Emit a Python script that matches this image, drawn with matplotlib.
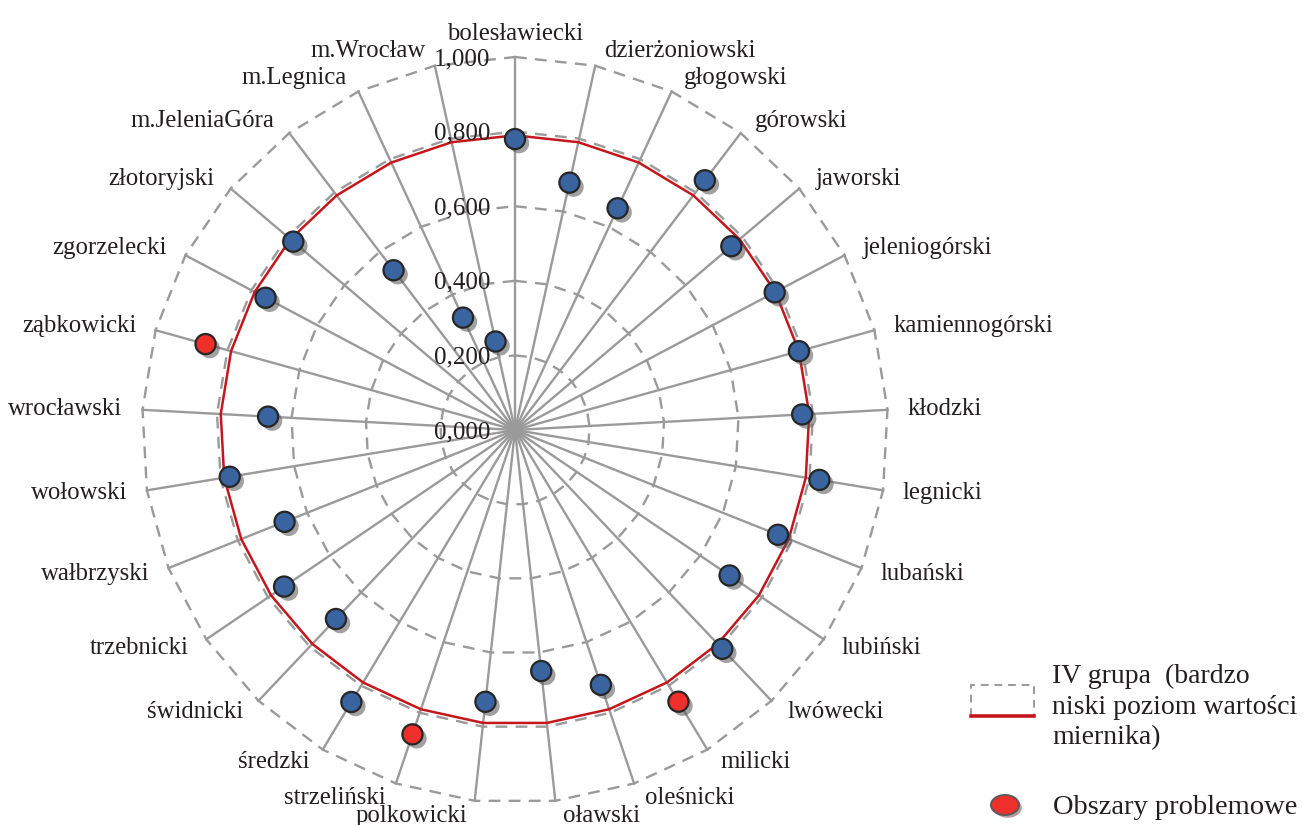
import numpy as np
import matplotlib
matplotlib.use("Agg")
import matplotlib.pyplot as plt
import matplotlib.patheffects as pe
from matplotlib.transforms import offset_copy
from matplotlib.patches import Ellipse
from matplotlib.lines import Line2D

plt.rcParams["font.family"] = ["Liberation Serif", "DejaVu Serif"]

districts = [
    "bolesławiecki", "dzierżoniowski", "głogowski", "górowski", "jaworski",
    "jeleniogórski", "kamiennogórski", "kłodzki", "legnicki", "lubański",
    "lubiński", "lwówecki", "milicki", "oleśnicki", "oławski", "polkowicki",
    "strzeliński", "średzki", "świdnicki", "trzebnicki", "wałbrzyski",
    "wołowski", "wrocławski", "ząbkowicki", "zgorzelecki", "złotoryjski",
    "m.JeleniaGóra", "m.Legnica", "m.Wrocław",
]
values = [
    0.780, 0.679, 0.655, 0.841, 0.761,
    0.788, 0.790, 0.771, 0.827, 0.759,
    0.695, 0.808, 0.850, 0.721, 0.650, 0.733,
    0.861, 0.851, 0.698, 0.748, 0.665,
    0.775, 0.663, 0.861, 0.757, 0.780,
    0.538, 0.332, 0.243,
]
threshold = [0.79] * len(districts)
problem_areas = ["milicki", "strzeliński", "ząbkowicki"]
rings = [0.2, 0.4, 0.6, 0.8, 1.0]
ring_labels = ["0,000", "0,200", "0,400", "0,600", "0,800", "1,000"]

GRAY = "#9a9a9a"
TXT = "#231f20"
BLUE = "#3a64a0"
RED = "#ee2f2a"
LINE_RED = "#c4161c"
W, H = 1303, 825

fig = plt.figure(figsize=(W / 100, H / 100), dpi=100)
ax = fig.add_axes([142 / W, 22 / H, 746 / W, 746 / H], polar=True)
ax.set_theta_zero_location("N")
ax.set_theta_direction(-1)
ax.set_ylim(0, 1.0)
ax.grid(False)
ax.set_xticks([])
ax.set_yticks([])
ax.spines["polar"].set_visible(False)

n = len(districts)
theta = np.linspace(0, 2 * np.pi, n, endpoint=False)
theta_c = np.append(theta, theta[0])

# spokes
for t in theta:
    ax.plot([t, t], [0, 1.0], color=GRAY, lw=1.7, zorder=1, clip_on=False)

# dashed polygon grid
for r in rings:
    ax.plot(theta_c, [r] * (n + 1), color=GRAY, lw=1.7, ls=(0, (5, 3.5)),
            zorder=1, clip_on=False)

# threshold line (IV grupa)
ax.plot(theta_c, threshold + threshold[:1], color=LINE_RED, lw=1.8, zorder=3)

# points
shadow = [pe.SimplePatchShadow(offset=(3, -3), shadow_rgbFace="#555555", alpha=0.55),
          pe.Normal()]
cols = [RED if d in problem_areas else BLUE for d in districts]
for t, v, c in zip(theta, values, cols):
    ax.plot([t], [v], marker="o", ms=14.5, mfc=c, mec="#262626", mew=1.6,
            ls="none", zorder=5, path_effects=shadow, clip_on=False)

# radial tick labels
tr = offset_copy(ax.transData, fig=fig, x=-25, y=-2, units="dots")
for i, lab in enumerate(ring_labels):
    ax.text(0, i * 0.2, lab, transform=tr, ha="right", va="center",
            fontsize=18, color=TXT, zorder=4)

# category labels
for t, name in zip(theta, districts):
    s, c = np.sin(t), np.cos(t)
    if abs(s) < 0.05:
        ha, off = "center", (0, 12)
        va = "bottom"
    else:
        ha = "left" if s > 0 else "right"
        va = "center"
        off = (np.sign(s) * (6 + 14 * abs(s)), 15 * c)
    ax.annotate(name, xy=(t, 1.0), xytext=off, textcoords="offset pixels",
                ha=ha, va=va, fontsize=17.8, color=TXT, annotation_clip=False)


def px(x, y):
    return x / W, 1 - y / H


# legend
x0, x1, yt, yb = 971, 1034, 685, 716
fig.add_artist(Line2D([px(x0, yb)[0], px(x0, yt)[0], px(x1, yt)[0], px(x1, yb)[0]],
                      [px(x0, yb)[1], px(x0, yt)[1], px(x1, yt)[1], px(x1, yb)[1]],
                      transform=fig.transFigure, color=GRAY, lw=1.4,
                      ls=(0, (4, 3))))
fig.add_artist(Line2D([px(x0, yb)[0], px(x1, yb)[0]], [px(x0, yb)[1], px(x1, yb)[1]],
                      transform=fig.transFigure, color=LINE_RED, lw=2.6))
fig.text(*px(1052, 707), "IV grupa  (bardzo\nniski poziom wartości\nmiernika)",
         ha="left", va="center", fontsize=20, color=TXT, linespacing=1.3)

ell = Ellipse(px(1005, 805), 28 / W, 20 / H, transform=fig.transFigure,
              facecolor=RED, edgecolor="#5a5a5a", lw=1.4,
              path_effects=[pe.SimplePatchShadow(offset=(2, -2), alpha=0.4), pe.Normal()])
fig.add_artist(ell)
fig.text(*px(1053, 808), "Obszary problemowe", ha="left", va="center",
         fontsize=20.5, color=TXT)

fig.savefig("out.png", dpi=100)
